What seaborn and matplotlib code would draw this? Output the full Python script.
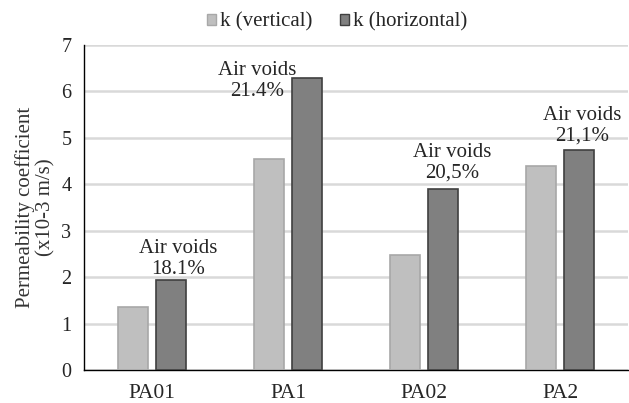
import matplotlib
matplotlib.use("Agg")
import matplotlib.pyplot as plt
import seaborn as sns
import pandas as pd
import numpy as np
from matplotlib.patches import Patch

categories = ["PA01", "PA1", "PA02", "PA2"]
k_vertical = [1.36, 4.55, 2.48, 4.39]
k_horizontal = [1.93, 6.29, 3.89, 4.74]
series_names = ["k (vertical)", "k (horizontal)"]
annotations = ["Air voids\n18.1%", "Air voids\n21.4%", "Air voids\n20,5%", "Air voids\n21,1%"]
ann_x = [0.19, 0.772, 2.206, 3.162]
ann_y = [2.40, 6.22, 4.46, 5.26]

df = pd.DataFrame({
    "cat": categories * 2,
    "val": k_vertical + k_horizontal,
    "series": [series_names[0]] * 4 + [series_names[1]] * 4,
})

sns.set_style("white")
plt.rcParams["font.family"] = ["Liberation Serif", "DejaVu Serif"]

fig = plt.figure(figsize=(6.29, 4.03), dpi=100)
ax = fig.add_axes([84 / 629, 1 - 370 / 403, 544 / 629, 325 / 403])

colors = {series_names[0]: "#bfbfbf", series_names[1]: "#808080"}
sns.barplot(data=df, x="cat", y="val", hue="series", palette=colors,
            width=0.572, gap=0.23, ax=ax, legend=False, zorder=3)
edges = ["#a8a8a8"] * 4 + ["#404040"] * 4
for p, ec in zip(ax.patches, edges):
    p.set_edgecolor(ec)
    p.set_linewidth(1.2)

ax.set_ylim(0, 7)
ax.set_xlim(-0.5, 3.5)
ax.set_yticks(range(0, 8))
ax.yaxis.grid(True, color="#d9d9d9", linewidth=1.8, zorder=0)
ax.set_axisbelow(True)
for s in ["top", "right"]:
    ax.spines[s].set_visible(False)
ax.spines["left"].set_color("black")
ax.spines["bottom"].set_color("black")
ax.spines["left"].set_linewidth(1.0)
ax.spines["bottom"].set_linewidth(1.0)

ax.set_xticks(range(4))
ax.set_xticklabels(categories, fontsize=15.5)
ax.set_xticks(np.arange(-0.5, 3.6, 1.0), minor=True)
ax.tick_params(axis="x", which="major", length=0, pad=10)
ax.tick_params(axis="x", which="minor", length=5, width=1, direction="out", color="black")
ax.tick_params(axis="y", length=5, width=1, direction="out", color="black", labelsize=14.5, pad=4)
ax.set_xlabel("")
ax.set_ylabel("Permeability coefficient\n(x10-3 m/s)", fontsize=15, color="#333333",
              labelpad=4, linespacing=1.1)

for t, x, y in zip(annotations, ann_x, ann_y):
    ax.text(x, y, t, ha="center", va="center", fontsize=15, linespacing=1.15, zorder=5)

handles = [Patch(facecolor=colors[n], edgecolor=e) for n, e in zip(series_names, ["#a8a8a8", "#404040"])]
fig.legend(handles, series_names, loc="center", bbox_to_anchor=(337 / 629, 1 - 22 / 403), ncol=2,
           frameon=False, fontsize=15, handlelength=0.45, handleheight=0.45,
           handletextpad=0.2, columnspacing=1.3, borderpad=0)

fig.savefig("out.png", dpi=100)
